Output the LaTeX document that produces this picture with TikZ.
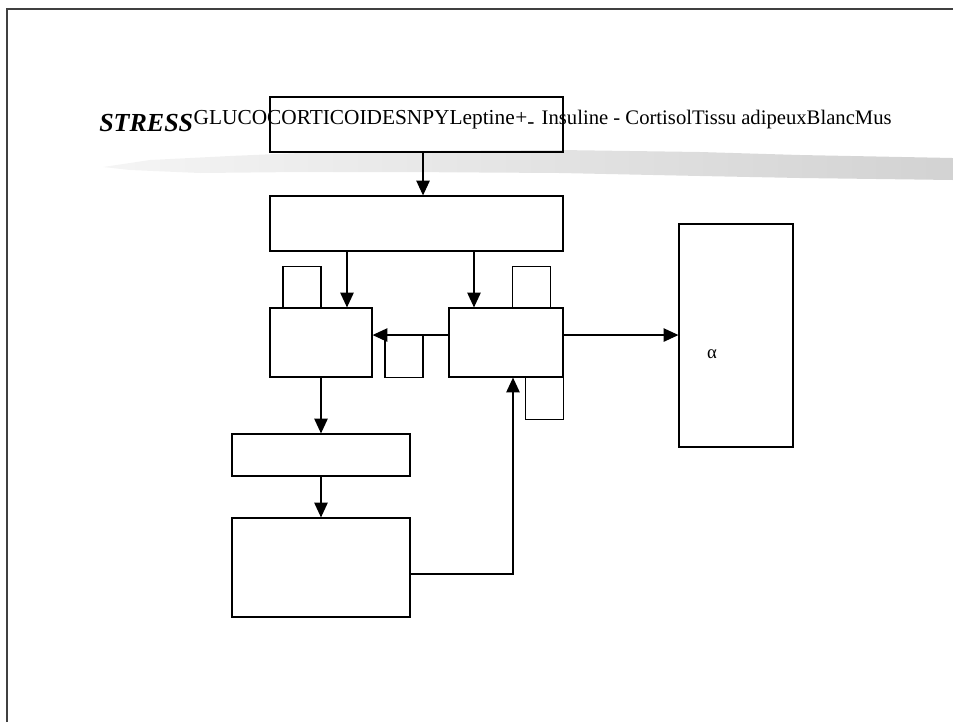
\documentclass[tikz,border=0pt]{standalone}
\usepackage{fontspec}
\setmainfont{Liberation Serif}
\usepackage{tikz}
\usetikzlibrary{arrows.meta, positioning}

\begin{document}
\begin{tikzpicture}[
    x = 0.75pt, y = -0.75pt,
    % styles de boîtes
    boite/.style   = {rectangle, draw, fill=white, line width=0.9pt, inner sep=0pt},
    large/.style   = {boite, minimum width=219.75pt, minimum height=41.25pt},
    moyen/.style   = {boite, minimum height=51.75pt},
    petit/.style   = {boite, minimum width=28.5pt, minimum height=31pt},
    bas/.style     = {boite, minimum width=133.5pt},
    fleche/.style  = {-{Triangle[width=10pt, length=11pt]}, line width=0.9pt},
    titre/.style   = {anchor=base west, inner sep=0pt},
]
\useasboundingbox (0,0) rectangle (953,722);

% ── Cadre ────────────────────────────────────────────────────────────────────
\draw[line width=1.2pt, black!75] (7,722) -- (7,9) -- (953,9);

% ── Trait de pinceau gris ────────────────────────────────────────────────────
\shade[left color=gray!8, right color=gray!35]
    (103,167) -- (150,160) -- (230,156) -- (300,153) -- (400,151) -- (560,150)
    -- (700,152) -- (800,155) -- (953,158) -- (953,180) -- (800,178)
    -- (700,176) -- (560,173) -- (400,172) -- (300,172) -- (200,173)
    -- (130,170) -- cycle;

% ── Boîtes principales ───────────────────────────────────────────────────────
\node[large, fill=none] (haut) at (416.5,124.5) {};
\node[large] (axe)   at (416.5,223.5) {};
\node[moyen, minimum width=76.5pt] (gauche) at (321,342.5) {};
\node[moyen, minimum width=85.5pt] (droite) at (506,342.5) {};
\node[boite, minimum width=85.5pt, minimum height=167.25pt] (tissu)
    at (736,335.5) {};
\node[font=\fontsize{14}{16}\selectfont] (alpha) at (712,354) {α};
\node[bas, minimum height=31.5pt]  (milieu) at (321,455) {};
\node[bas, minimum height=74.25pt] (sortie) at (321,567.5) {};

% ── Petites boîtes ───────────────────────────────────────────────────────────
\node[petit] (p_gauche) at (302,287)     {};
\node[petit] (p_droite) at (531.5,287)   {};
\node[petit] (p_centre) at (404,356.5)   {};
\node[petit] (p_bas)    at (544.5,398.5) {};

% ── Titre ────────────────────────────────────────────────────────────────────
\node[titre, font=\fontsize{19.5}{22}\selectfont\bfseries\itshape] (stress)
    at (99,131) {STRESS};
\node[titre, font=\fontsize{16}{19}\selectfont] (hormones)
    at ([yshift=5.25pt]stress.base east) {GLUCOCORTICOIDESNPYLeptine};
\node[titre, font=\fontsize{16}{19}\selectfont] (signes)
    at (hormones.base east) {+\raisebox{-3pt}{-}};
\node[titre, font=\fontsize{15.5}{18}\selectfont] (tissus)
    at ([xshift=5pt]signes.base east) {Insuline - CortisolTissu adipeuxBlancMus};

% ── Flèches ──────────────────────────────────────────────────────────────────
\coordinate (c_haut)   at ([xshift=4.9pt]haut.south);
\coordinate (c_gauche) at ([xshift=19.5pt]gauche.north);
\coordinate (c_droite) at ([xshift=-24pt]droite.north);
\coordinate (c_retour) at ([xshift=5.25pt]droite.south);

\draw[fleche] (c_haut) -- (c_haut |- axe.north);
\draw[fleche] (axe.south -| c_gauche) -- (c_gauche);
\draw[fleche] (axe.south -| c_droite) -- (c_droite);
\draw[fleche] ([yshift=5.6pt]droite.west) -- ([yshift=5.6pt]droite.west -| gauche.east);
\draw[fleche] ([yshift=5.6pt]droite.east) -- ([yshift=5.6pt]droite.east -| tissu.west);
\draw[fleche] (gauche.south) -- (milieu.north);
\draw[fleche] (milieu.south) -- (sortie.north);
\draw[fleche] ([yshift=-4.9pt]sortie.east) -| (c_retour);

\end{tikzpicture}
\end{document}
